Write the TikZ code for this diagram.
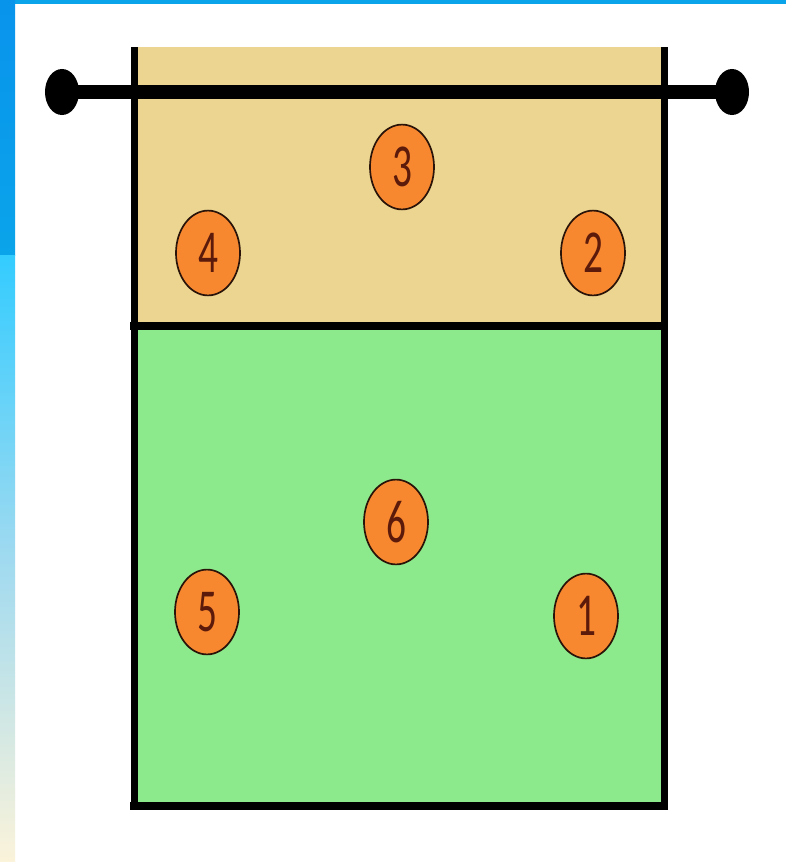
\documentclass[tikz,border=0pt]{standalone}
\usepackage{graphicx}
\usepackage{fontspec}
\newfontfamily\digitfont{Carlito}
\usetikzlibrary{shapes.geometric}
\definecolor{frontzone}{HTML}{EBD590}
\definecolor{backzone}{HTML}{8CE98C}
\definecolor{playerfill}{HTML}{F7882F}
\definecolor{playeredge}{HTML}{2A140A}
\definecolor{playertext}{HTML}{5C1A0A}
\definecolor{frameblue}{HTML}{0AA4EA}
\newcommand{\pnum}[1]{\scalebox{1}[1.55]{#1}}

\begin{document}
\begin{tikzpicture}[
    x=0.025cm, y=-0.025cm,
    every node/.style={font=\digitfont\fontsize{28}{28}\selectfont},
    player/.style={ellipse, draw=playeredge, line width=1.2pt, fill=playerfill,
                   minimum width=1.6cm, minimum height=2.12cm, inner sep=0pt,
                   text=playertext},
    post/.style={ellipse, fill=black, minimum width=0.85cm, minimum height=1.15cm,
                 inner sep=0pt},
    sideline/.style={line width=0.175cm},
    crossline/.style={line width=0.2cm},
    netline/.style={line width=0.35cm},
]
  \useasboundingbox (0,0) rectangle (786,862);
  % Slide background
  \fill[white] (0,0) rectangle (786,862);
  \fill[frameblue] (0,0) rectangle (786,4);
  \shade[top color=frameblue!90!blue, bottom color=frameblue] (0,0) rectangle (15,255);
  \shade[top color=cyan!75!blue!80, bottom color={rgb,255:red,251;green,243;blue,218},
         middle color={rgb,255:red,160;green,218;blue,240}] (0,255) rectangle (15,862);
  % Court zones
  \fill[frontzone] (134,47) rectangle (664,326);
  \fill[backzone]  (134,326) rectangle (664,806);
  % Court lines
  \draw[sideline]  (134,47) -- (134,810);
  \draw[sideline]  (664,47) -- (664,810);
  \draw[crossline] (130,326) -- (668,326);
  \draw[crossline] (130,806) -- (668,806);
  % Net
  \node[post] (netL) at (62,92) {};
  \node[post] (netR) at (732,92) {};
  \draw[netline] (netL.center) -- (netR.center);
  % Front row
  \node[player] (p4) at (208,253) {\pnum{4}};
  \node[player] (p3) at (402,167) {\pnum{3}};
  \node[player] (p2) at (593,253) {\pnum{2}};
  % Back row
  \node[player] (p5) at (207,612) {\pnum{5}};
  \node[player] (p6) at (396,522) {\pnum{6}};
  \node[player] (p1) at (586,616) {\pnum{1}};
\end{tikzpicture}
\end{document}
